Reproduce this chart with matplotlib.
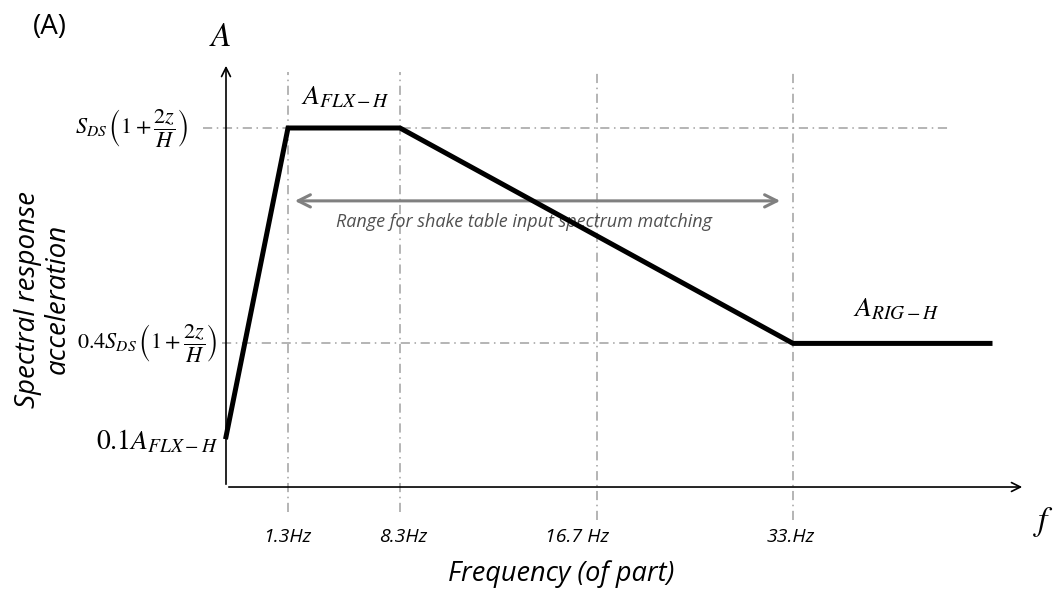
import matplotlib
matplotlib.use("Agg")
import matplotlib.pyplot as plt

plt.rcParams['mathtext.fontset'] = 'stix'
plt.rcParams['font.family'] = ['Open Sans', 'DejaVu Sans']

# schematic spectrum (x in drawing units, y relative to plateau level)
spec_x = [0, 0.62, 1.74, 5.67, 7.64]
spec_y = [0.14, 1.0, 1.0, 0.4, 0.4]

# frequency marks
freq_pos = [0.62, 1.74, 3.71, 5.67]
freq_labels = ["1.3Hz", "8.3Hz", "16.7 Hz", "33.Hz"]
freq_label_x = [0.61, 1.77, 3.51, 5.65]
freq_line_bottom = [-0.07, -0.07, -0.092, -0.092]

# level marks
level_y = [1.0, 0.4]
level_x0 = [-0.23, -0.04]
level_x1 = [7.24, 5.67]
level_labels = [r"$S_{DS}\,\left(1+\dfrac{2z}{H}\right)$",
                r"$0.4S_{DS}\,\left(1+\dfrac{2z}{H}\right)$"]
level_label_right = [-0.38, -0.08]

range_x = [0.66, 5.57]
range_y = 0.797

grid_col = "#a0a0a0"
fig = plt.figure(figsize=(10.54, 5.94), dpi=100)
ax = fig.add_axes([0, 0, 1, 1])
ax.set_xlim(-2.26, 8.28)
ax.set_ylim(-0.298, 1.3565)
ax.axis("off")

# dash-dot guide lines
for x, yb in zip(freq_pos, freq_line_bottom):
    ax.plot([x, x], [yb, 1.155], color=grid_col, lw=1.1, ls=(0, (6, 3, 1, 3)), zorder=1)
for y, x0, x1 in zip(level_y, level_x0, level_x1):
    ax.plot([x0, x1], [y, y], color=grid_col, lw=1.1, ls=(0, (6, 3, 1, 3)), zorder=1)

# axes with open arrows
ax.annotate("", xy=(0, 1.181), xytext=(0, 0),
            arrowprops=dict(arrowstyle="->", color="black", lw=1.2, mutation_scale=16))
ax.annotate("", xy=(7.99, 0), xytext=(0, 0),
            arrowprops=dict(arrowstyle="->", color="black", lw=1.2, mutation_scale=16))

# range arrow
ax.annotate("", xy=(range_x[1], range_y), xytext=(range_x[0], range_y),
            arrowprops=dict(arrowstyle="<->", color="#808080", lw=2.2, mutation_scale=22),
            zorder=2)
ax.text(sum(range_x) / 2 - 0.14, range_y - 0.06,
        "Range for shake table input spectrum matching",
        ha="center", va="center", style="italic", fontsize=13, color="#505050")

# spectrum
ax.plot(spec_x, spec_y, color="black", lw=3.6, solid_joinstyle="miter", zorder=3)

# frequency labels
for x, lab in zip(freq_label_x, freq_labels):
    ax.text(x, -0.139, lab, ha="center", va="center", style="italic", fontsize=14)

# level labels
for y, lab, xr in zip(level_y, level_labels, level_label_right):
    ax.text(xr, y, lab, ha="right", va="center", fontsize=16)
ax.text(-0.08, spec_y[0] - 0.015, r"$0.1A_{FLX-H}$", ha="right", va="center", fontsize=20)

ax.text(1.19, 1.085, r"$A_{FLX-H}$", ha="center", va="center", fontsize=20)
ax.text(6.70, 0.496, r"$A_{RIG-H}$", ha="center", va="center", fontsize=20)

fig.text(220 / 1054, 1 - 38 / 594, r"$A$", ha="center", va="center", fontsize=24)
fig.text(1044 / 1054, 1 - 522 / 594, r"$f$", ha="center", va="center", fontsize=24)
fig.text(50 / 1054, 1 - 27 / 594, "(A)", ha="center", va="center", fontsize=20)
fig.text(43 / 1054, 1 - 299 / 594, "Spectral response\nacceleration", ha="center",
         va="center", rotation=90, style="italic", fontsize=20, linespacing=1.05)
fig.text(561 / 1054, 1 - 574 / 594, "Frequency (of part)", ha="center", va="center",
         style="italic", fontsize=19.5)

fig.savefig("out.png", dpi=100)
